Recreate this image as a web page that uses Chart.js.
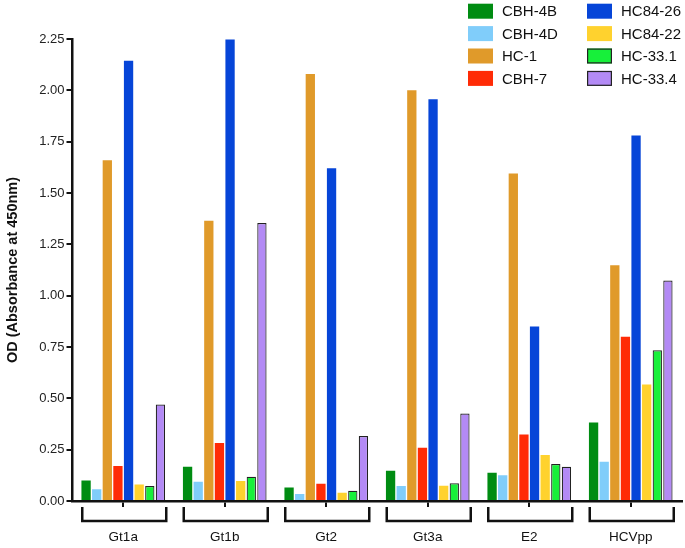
<!DOCTYPE html>
<html>
<head>
<meta charset="utf-8">
<script src="https://cdn.jsdelivr.net/npm/chart.js@4.4.0/dist/chart.umd.min.js"></script>
<style>
  html, body { margin: 0; padding: 0; background: #fff; }
  #wrap { width: 685px; height: 548px; position: relative; }
</style>
</head>
<body>
<div id="wrap"><canvas id="odChart"></canvas></div>
<script>
const groups = ["Gt1a", "Gt1b", "Gt2", "Gt3a", "E2", "HCVpp"];
const antibodies = ["CBH-4B", "CBH-4D", "HC-1", "CBH-7", "HC84-26", "HC84-22", "HC-33.1", "HC-33.4"];

const cbh4b  = [0.10, 0.167, 0.066, 0.147, 0.138, 0.382];
const cbh4d  = [0.057, 0.094, 0.034, 0.073, 0.126, 0.191];
const hc1    = [1.66, 1.365, 2.08, 2.00, 1.595, 1.148];
const cbh7   = [0.17, 0.283, 0.084, 0.259, 0.324, 0.80];
const hc8426 = [2.144, 2.248, 1.62, 1.957, 0.85, 1.78];
const hc8422 = [0.08, 0.097, 0.04, 0.074, 0.224, 0.567];
const hc331  = [0.073, 0.118, 0.05, 0.086, 0.18, 0.734];
const hc334  = [0.47, 1.354, 0.316, 0.426, 0.167, 1.074];

const yTicks = [0, 0.25, 0.5, 0.75, 1.0, 1.25, 1.5, 1.75, 2.0, 2.25];

const seriesValues = [cbh4b, cbh4d, hc1, cbh7, hc8426, hc8422, hc331, hc334];
const fills = ["#008c12", "#80cdfa", "#e09a2a", "#ff2b06", "#0645d8", "#ffd22e", "#17f03a", "#b38af5"];
const outlined = [false, false, false, false, false, false, true, true];

const datasets = antibodies.map((name, i) => ({
  label: name,
  data: seriesValues[i],
  backgroundColor: fills[i],
  borderColor: outlined[i] ? "#222" : fills[i],
  borderWidth: outlined[i] ? 1.2 : 0,
  borderSkipped: "bottom",
  categoryPercentage: 0.837,
  barPercentage: 0.875,
}));

// brackets under each group
const bracketPlugin = {
  id: "brackets",
  afterDraw(chart) {
    const ctx = chart.ctx;
    const x = chart.scales.x;
    const base = chart.chartArea.bottom;
    ctx.save();
    ctx.strokeStyle = "#111";
    ctx.lineWidth = 2.5;
    groups.forEach((g, i) => {
      const c = x.getPixelForValue(i) + 1;
      ctx.beginPath();
      ctx.moveTo(c - 42, base + 6);
      ctx.lineTo(c - 42, base + 20);
      ctx.lineTo(c + 42, base + 20);
      ctx.lineTo(c + 42, base + 6);
      ctx.stroke();
    });
    ctx.restore();
  }
};

// two-column legend in the top right corner
const legendPlugin = {
  id: "twoColLegend",
  afterDraw(chart) {
    const ctx = chart.ctx;
    const cols = [468, 587];
    ctx.save();
    ctx.font = "15px 'Liberation Sans', Arial, sans-serif";
    ctx.textBaseline = "middle";
    ctx.fillStyle = "#111";
    chart.data.datasets.forEach((ds, i) => {
      const col = Math.floor(i / 4);
      const row = i % 4;
      const bx = cols[col];
      const cy = 11.2 + row * 22.4;
      ctx.fillStyle = ds.backgroundColor;
      ctx.fillRect(bx, cy - 7.5, 25, 15);
      if (outlined[i]) {
        ctx.strokeStyle = "#222";
        ctx.lineWidth = 1.2;
        ctx.strokeRect(bx + 0.6, cy - 6.9, 23.8, 13.8);
      }
      ctx.fillStyle = "#111";
      ctx.fillText(ds.label, bx + 34, cy + 1);
    });
    ctx.restore();
  }
};

const odCtx = document.getElementById("odChart").getContext("2d");
const odChart = new Chart(odCtx, {
  type: "bar",
  data: { labels: groups, datasets: datasets },
  options: {
    responsive: true,
    maintainAspectRatio: false,
    animation: false,
    layout: { padding: { left: 0, right: 3.5, top: 39, bottom: 0 } },
    plugins: {
      legend: { display: false },
      tooltip: { enabled: false },
    },
    scales: {
      x: {
        grid: { offset: false, drawOnChartArea: false, drawTicks: true, tickLength: 6, color: "#111", lineWidth: 2 },
        border: { color: "#111", width: 2.5 },
        ticks: {
          color: "#111",
          padding: 22,
          font: { family: "'Liberation Sans', Arial, sans-serif", size: 13.5 },
        },
        afterFit(scale) { scale.height = 47; },
      },
      y: {
        min: 0,
        max: 2.25,
        grid: { drawOnChartArea: false, drawTicks: true, tickLength: 6, color: "#111", lineWidth: 2 },
        border: { color: "#111", width: 2.5 },
        afterBuildTicks(scale) { scale.ticks = yTicks.map(v => ({ value: v })); },
        ticks: {
          color: "#222",
          padding: 2,
          font: { family: "'Liberation Sans', Arial, sans-serif", size: 13 },
          callback: (v) => Number(v).toFixed(2),
        },
        title: {
          display: true,
          text: "OD (Absorbance at 450nm)",
          color: "#111",
          font: { family: "'Liberation Sans', Arial, sans-serif", size: 14.5, weight: "bold" },
          padding: { top: 4, bottom: 4 },
        },
        afterFit(scale) { scale.width = 72.5; },
      },
    },
  },
  plugins: [bracketPlugin, legendPlugin],
});
</script>
</body>
</html>
